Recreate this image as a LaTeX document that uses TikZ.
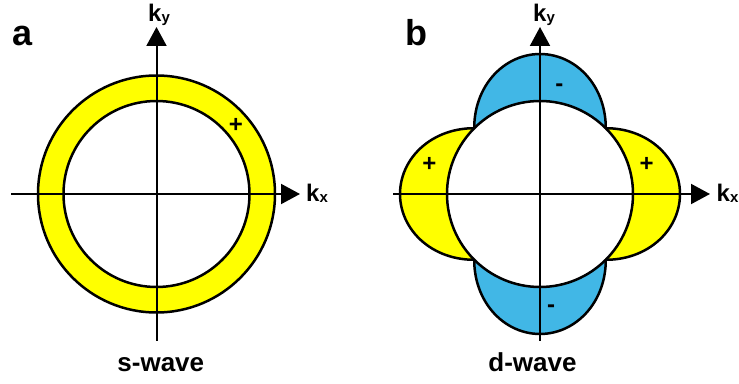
\documentclass[tikz,border=0pt]{standalone}
\usepackage{fontspec}
\setmainfont{Liberation Sans}
\usepackage{tikz}
\usetikzlibrary{positioning,arrows.meta}
\definecolor{ringyellow}{HTML}{FFFF00}
\definecolor{lobeblue}{HTML}{41B7E6}

\begin{document}
\begin{tikzpicture}[
  x=1pt, y=1pt,
  rim/.style={line width=2.5pt, draw=black},
  axis/.style={line width=2pt, -{Triangle[length=19pt, width=20pt]}},
  lbl/.style={inner sep=0pt, font=\fontsize{24}{26}\selectfont\bfseries},
  panel/.style={inner sep=0pt, anchor=base west, font=\fontsize{36}{40}\selectfont\bfseries},
  wave/.style={inner sep=0pt, anchor=base, font=\fontsize{26}{30}\selectfont\bfseries},
  sign/.style={inner sep=0pt, font=\fontsize{24}{26}\selectfont\bfseries},
  declare function={lobe(\t)=93+47*abs(cos(2*\t));}
]
\useasboundingbox (0,0) rectangle (739,383);

% --- Panel a: s-wave ---
\coordinate (oa) at (156.5,189);
\filldraw[rim, fill=ringyellow] (oa) circle[radius=118.5];
\filldraw[rim, fill=white] (oa) circle[radius=93];
\coordinate (axl) at (11,189);
\coordinate (axr) at (300,189);
\coordinate (ayb) at (156.5,42);
\coordinate (ayt) at (156.5,356);
\draw[axis] (axl) -- (axr);
\draw[axis] (ayb) -- (ayt);
\node[lbl, anchor=base west] (kxa) at (306,181.3) {k{\fontsize{15}{15}\selectfont\raisebox{-1pt}{x}}};
\node[lbl, anchor=base west] (kya) at (148,361.3) {k{\fontsize{15}{15}\selectfont\raisebox{-1pt}{y}}};
\node[sign] (pa) at (236,258) {+};
\node[panel] (la) at (12,337) {a};
\node[wave] (wa) at (160.8,11.3) {s-wave};

% --- Panel b: d-wave ---
\coordinate (ob) at (540,189);
\begin{scope}[shift={(540,189)}]
  \fill[ringyellow] (0,0) -- plot[domain=-45:45, samples=61] (\x:{lobe(\x)}) -- cycle;
  \fill[ringyellow] (0,0) -- plot[domain=135:225, samples=61] (\x:{lobe(\x)}) -- cycle;
  \fill[lobeblue] (0,0) -- plot[domain=45:135, samples=61] (\x:{lobe(\x)}) -- cycle;
  \fill[lobeblue] (0,0) -- plot[domain=225:315, samples=61] (\x:{lobe(\x)}) -- cycle;
  \draw[rim, line join=round] plot[domain=0:360, samples=241] (\x:{lobe(\x)});
\end{scope}
\filldraw[rim, fill=white] (ob) circle[radius=93];
\coordinate (bxl) at (393,189);
\coordinate (bxr) at (710,189);
\coordinate (byb) at (540,42);
\coordinate (byt) at (540,356);
\draw[axis] (bxl) -- (bxr);
\draw[axis] (byb) -- (byt);
\node[lbl, anchor=base west] (kxb) at (716.5,181.3) {k{\fontsize{15}{15}\selectfont\raisebox{-1pt}{x}}};
\node[lbl, anchor=base west] (kyb) at (533,361.3) {k{\fontsize{15}{15}\selectfont\raisebox{-1pt}{y}}};
\node[sign] (pbl) at (429.3,219) {+};
\node[sign] (pbr) at (646.7,219) {+};
\node[sign] (mbt) at (559.3,295) {-};
\node[sign] (mbb) at (551,74) {-};
\node[panel] (lb) at (405,337) {b};
\node[wave] (wb) at (532.5,11.3) {d-wave};

\end{tikzpicture}
\end{document}
